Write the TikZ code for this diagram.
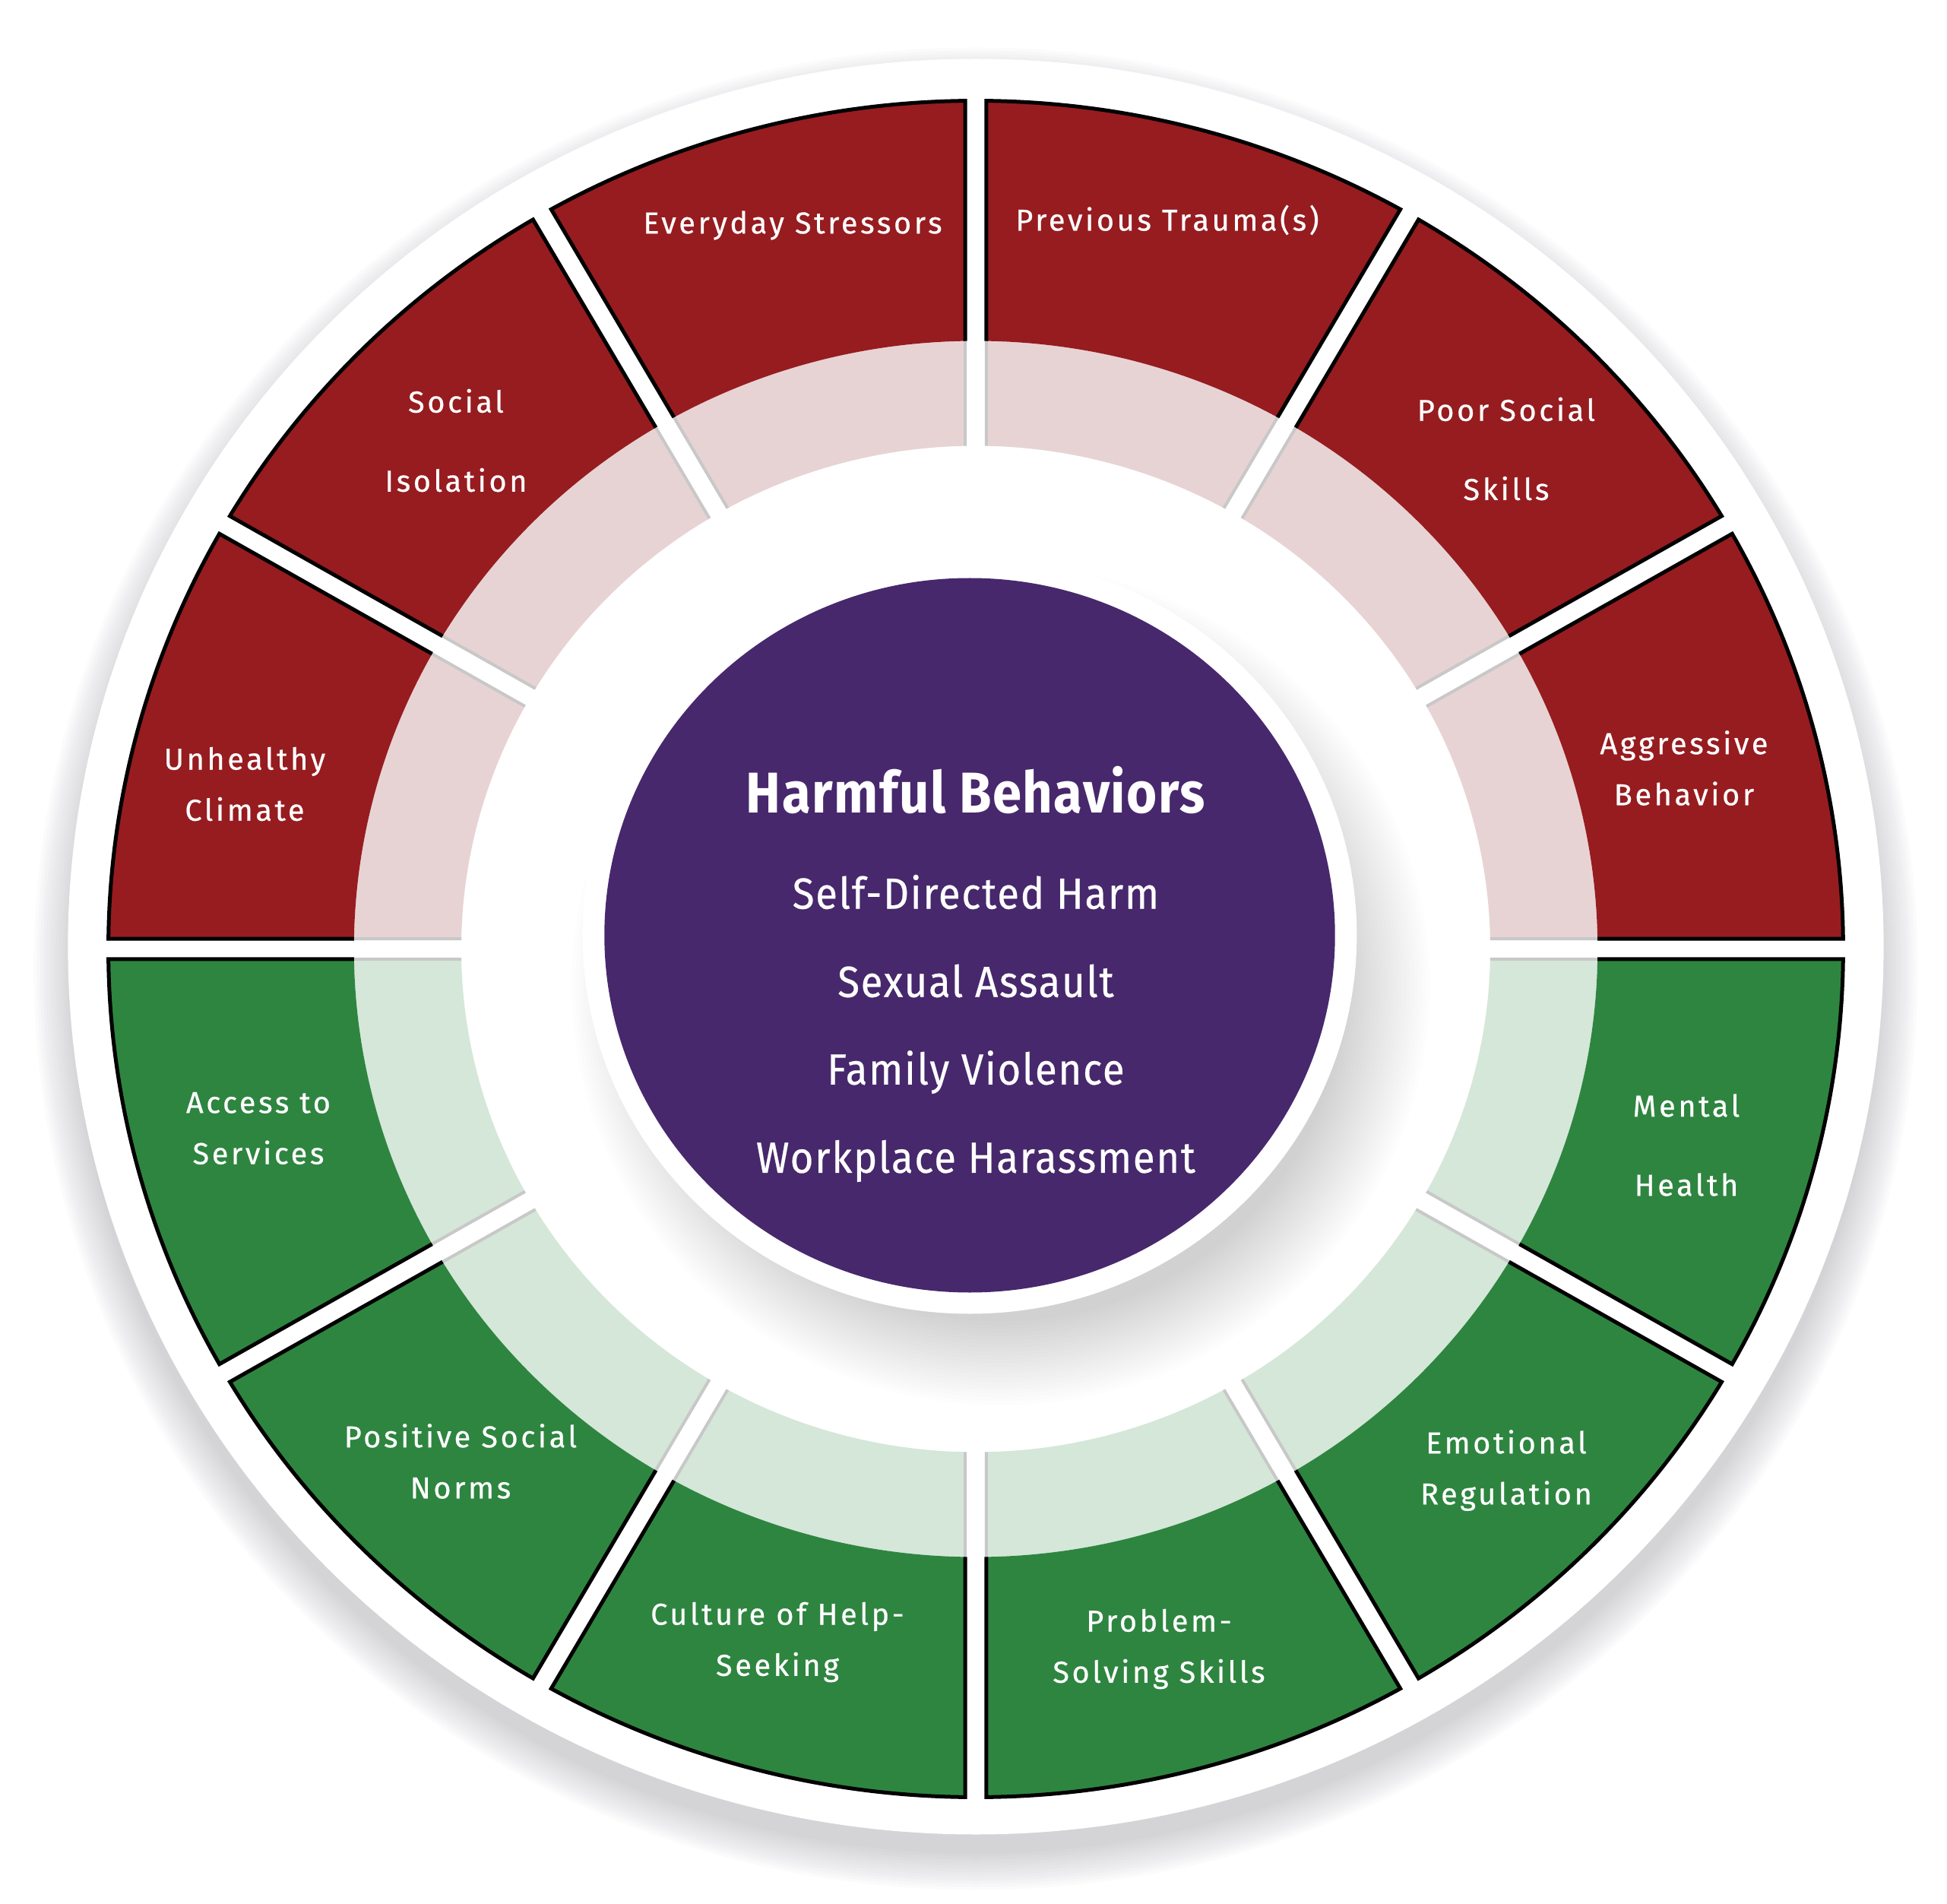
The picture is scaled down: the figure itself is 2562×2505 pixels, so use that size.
\documentclass[tikz,border=0pt]{standalone}
\usepackage{fontspec}
\setmainfont{Fira Sans}
\newfontfamily\lblfont[LetterSpace=9, FakeBold=0.5]{Fira Sans}
\newfontfamily\ctrfont[LetterSpace=3, FakeStretch=0.92, FakeBold=0.4]{Fira Sans}
\newfontfamily\ttlfont[LetterSpace=2, FakeStretch=0.91]{Fira Sans}
\definecolor{darkred}{RGB}{150,28,32}
\definecolor{palered}{RGB}{232,211,212}
\definecolor{darkgreen}{RGB}{46,133,64}
\definecolor{palegreen}{RGB}{212,231,217}
\definecolor{hbpurple}{RGB}{71,40,108}
\definecolor{sidegray}{RGB}{200,200,200}
\definecolor{shadowc}{RGB}{50,50,60}
\def\rA{662}
\def\rB{800}
\def\rC{1116}
\def\hg{13.5}
\tikzset{
  sideline/.style={draw=sidegray, line width=0.04cm},
  segedge/.style={draw=black, line width=0.05cm, line join=miter},
  lbl/.style={text=white, align=center, inner sep=0pt, font=\lblfont\fontsize{11.3}{19.1}\selectfont},
  ctr/.style={text=white, align=center, inner sep=0pt, font=\ctrfont\fontsize{16.3}{20}\selectfont},
  ttl/.style={text=white, align=center, inner sep=0pt, font=\ttlfont\bfseries\fontsize{21.5}{26}\selectfont},
}
\newcommand\drawsector[4]{%
  \fill[#4] ({#1+asin(\hg/\rA)}:\rA) -- ({#1+asin(\hg/\rB)}:\rB)
     arc[start angle={#1+asin(\hg/\rB)}, end angle={#2-asin(\hg/\rB)}, radius=\rB]
     -- ({#2-asin(\hg/\rA)}:\rA)
     arc[start angle={#2-asin(\hg/\rA)}, end angle={#1+asin(\hg/\rA)}, radius=\rA] -- cycle;
  \draw[sideline] ({#1+asin(\hg/\rA)}:\rA) -- ({#1+asin(\hg/\rB)}:\rB);
  \draw[sideline] ({#2-asin(\hg/\rA)}:\rA) -- ({#2-asin(\hg/\rB)}:\rB);
  \fill[#3] ({#1+asin(\hg/\rB)}:\rB) -- ({#1+asin(\hg/\rC)}:\rC)
     arc[start angle={#1+asin(\hg/\rC)}, end angle={#2-asin(\hg/\rC)}, radius=\rC]
     -- ({#2-asin(\hg/\rB)}:\rB)
     arc[start angle={#2-asin(\hg/\rB)}, end angle={#1+asin(\hg/\rB)}, radius=\rB] -- cycle;
  \draw[segedge] ({#1+asin(\hg/\rB)}:\rB) -- ({#1+asin(\hg/\rC)}:\rC)
     arc[start angle={#1+asin(\hg/\rC)}, end angle={#2-asin(\hg/\rC)}, radius=\rC]
     -- ({#2-asin(\hg/\rB)}:\rB);
}
\begin{document}
\begin{tikzpicture}[x=0.01cm, y=0.01cm]
\useasboundingbox[fill=white] (-1284,-1256.5) rectangle (1278,1248.5);
\begin{scope}[xscale=1.0228]
  % outer drop shadow
  \foreach \i in {0,...,12} \fill[shadowc, opacity=0.014] (0,-26) circle ({1212-\i*4});
  % white disc
  \fill[white] (0,3) circle (1168);
  % sectors
  \drawsector{0}{30}{darkred}{palered}
  \drawsector{30}{60}{darkred}{palered}
  \drawsector{60}{90}{darkred}{palered}
  \drawsector{90}{120}{darkred}{palered}
  \drawsector{120}{150}{darkred}{palered}
  \drawsector{150}{180}{darkred}{palered}
  \drawsector{180}{210}{darkgreen}{palegreen}
  \drawsector{210}{240}{darkgreen}{palegreen}
  \drawsector{240}{270}{darkgreen}{palegreen}
  \drawsector{270}{300}{darkgreen}{palegreen}
  \drawsector{300}{330}{darkgreen}{palegreen}
  \drawsector{330}{360}{darkgreen}{palegreen}
  % button shadow
  \foreach \i in {0,...,22} \fill[shadowc, opacity=0.0075] (32,-48) circle ({552-\i*5});
  % white ring and purple button
  \fill[white] (-7.8,18) circle (498);
  \fill[hbpurple] (-7.8,18) circle (470);
\end{scope}
% centre texts
\node[ttl] (title) at (0,209) {Harmful Behaviors};
\node[ctr] (c1) at (0,75) {Self-Directed Harm};
\node[ctr] (c2) at (0,-42) {Sexual Assault};
\node[ctr] (c3) at (0,-162) {Family Violence};
\node[ctr] (c4) at (0,-279) {Workplace Harassment};
% red labels
\node[lbl] (l1) at (-962,217) {Unhealthy\\Climate};
\node[lbl] (l2) at (-684,669) {Social\\[10.5pt]Isolation};
\node[lbl] (l3) at (-241,952) {Everyday Stressors};
\node[lbl] (l4) at (252,959) {Previous Trauma(s)};
\node[lbl] (l5) at (698,658) {Poor Social\\[10.5pt]Skills};
\node[lbl] (l6) at (932,238) {Aggressive\\Behavior};
% green labels
\node[lbl] (g1) at (-944,-236) {Access to\\Services};
\node[lbl] (g2) at (-678,-674) {Positive Social\\Norms};
\node[lbl] (g3) at (-261,-912) {Culture of Help-\\Seeking};
\node[lbl] (g4) at (241,-921) {Problem-\\Solving Skills};
\node[lbl] (g5) at (698,-686) {Emotional\\Regulation};
\node[lbl] (g6) at (935,-258) {Mental\\[10.5pt]Health};
\end{tikzpicture}
\end{document}
